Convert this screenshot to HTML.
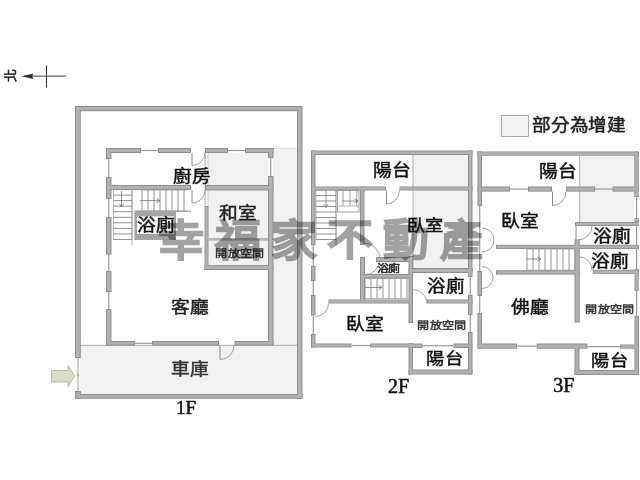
<!DOCTYPE html>
<html lang="zh-TW"><head><meta charset="utf-8"><style>
html,body{margin:0;padding:0;background:#fff;width:640px;height:480px;overflow:hidden}
svg{position:absolute;left:0;top:0}
.t{position:absolute;font-family:"Liberation Sans",sans-serif;white-space:nowrap;line-height:1;color:#111;-webkit-text-stroke:0.5px currentColor}
.s{font-family:"Liberation Serif",serif}
.c{transform:scale(1.04,0.93);transform-origin:50% 50%}
.wm{font-weight:700;color:#a2a2a2;-webkit-text-stroke:1.3px #a2a2a2;mix-blend-mode:multiply;transform:scaleY(0.95);transform-origin:0 0}
</style></head><body>
<svg width="640" height="480" viewBox="0 0 640 480">
<rect x="80" y="345" width="217" height="49" fill="#eff2ee" />
<rect x="273" y="148" width="24" height="197" fill="#eff2ee" />
<rect x="208.5" y="153" width="59.5" height="112" fill="#eff2ee" />
<line x1="80" y1="345.3" x2="297" y2="345.3" stroke="#9a9a9a" stroke-width="0.8"/>
<line x1="273" y1="148.3" x2="297" y2="148.3" stroke="#c8c8c8" stroke-width="0.6"/>
<line x1="78" y1="358" x2="78" y2="391" stroke="#8a8a8a" stroke-width="0.9"/>
<line x1="76.5" y1="375" x2="79.5" y2="375" stroke="#8a8a8a" stroke-width="0.8"/>
<line x1="141" y1="150.5" x2="158" y2="150.5" stroke="#9a9a9a" stroke-width="1.2"/>
<line x1="228" y1="150.5" x2="245" y2="150.5" stroke="#9a9a9a" stroke-width="1.2"/>
<line x1="108.75" y1="159" x2="108.75" y2="177" stroke="#9a9a9a" stroke-width="1.2"/>
<line x1="108.75" y1="199" x2="108.75" y2="217" stroke="#9a9a9a" stroke-width="1.2"/>
<line x1="108.75" y1="254.7" x2="108.75" y2="271" stroke="#9a9a9a" stroke-width="1.2"/>
<line x1="108.75" y1="292" x2="108.75" y2="309" stroke="#9a9a9a" stroke-width="1.2"/>
<line x1="270.75" y1="158" x2="270.75" y2="176" stroke="#9a9a9a" stroke-width="1.2"/>
<line x1="135" y1="343.25" x2="152" y2="343.25" stroke="#9a9a9a" stroke-width="1.2"/>
<rect x="208.5" y="238" width="59.5" height="2.6" fill="#b4b4b4" />
<line x1="205.2" y1="153" x2="205.2" y2="206" stroke="#999" stroke-width="0.8"/>
<line x1="208" y1="153" x2="208" y2="206" stroke="#aaa" stroke-width="0.6"/>
<line x1="113.5" y1="189.5" x2="132" y2="189.5" stroke="#808080" stroke-width="0.85"/>
<line x1="113.5" y1="195.1" x2="132" y2="195.1" stroke="#808080" stroke-width="0.85"/>
<line x1="113.5" y1="200.6" x2="132" y2="200.6" stroke="#808080" stroke-width="0.85"/>
<line x1="113.5" y1="206.2" x2="132" y2="206.2" stroke="#808080" stroke-width="0.85"/>
<line x1="113.5" y1="211.7" x2="132" y2="211.7" stroke="#808080" stroke-width="0.85"/>
<line x1="113.5" y1="217.3" x2="132" y2="217.3" stroke="#808080" stroke-width="0.85"/>
<line x1="113.5" y1="222.8" x2="132" y2="222.8" stroke="#808080" stroke-width="0.85"/>
<line x1="113.5" y1="228.4" x2="132" y2="228.4" stroke="#808080" stroke-width="0.85"/>
<line x1="113.5" y1="233.9" x2="132" y2="233.9" stroke="#808080" stroke-width="0.85"/>
<line x1="113.5" y1="239.5" x2="132" y2="239.5" stroke="#808080" stroke-width="0.85"/>
<line x1="113.5" y1="189.5" x2="113.5" y2="239.5" stroke="#8a8a8a" stroke-width="0.6"/>
<line x1="132" y1="189.5" x2="132" y2="239.5" stroke="#8a8a8a" stroke-width="0.6"/>
<line x1="132" y1="190" x2="132" y2="245" stroke="#8a8a8a" stroke-width="0.7"/>
<line x1="142" y1="190" x2="142" y2="211" stroke="#808080" stroke-width="0.85"/>
<line x1="148" y1="190" x2="148" y2="211" stroke="#808080" stroke-width="0.85"/>
<line x1="154" y1="190" x2="154" y2="211" stroke="#808080" stroke-width="0.85"/>
<line x1="160" y1="190" x2="160" y2="211" stroke="#808080" stroke-width="0.85"/>
<line x1="166" y1="190" x2="166" y2="211" stroke="#808080" stroke-width="0.85"/>
<line x1="172" y1="190" x2="172" y2="211" stroke="#808080" stroke-width="0.85"/>
<line x1="178" y1="190" x2="178" y2="211" stroke="#808080" stroke-width="0.85"/>
<line x1="184" y1="190" x2="184" y2="211" stroke="#808080" stroke-width="0.85"/>
<line x1="142" y1="190" x2="187" y2="190" stroke="#8a8a8a" stroke-width="0.6"/>
<line x1="142" y1="211" x2="187" y2="211" stroke="#8a8a8a" stroke-width="0.6"/>
<rect x="134.4" y="210.4" width="41.6" height="29.6" fill="#a4a4a4" />
<rect x="137" y="216.4" width="37" height="17.6" fill="#fff" />
<line x1="176" y1="211.2" x2="191" y2="211.2" stroke="#8a8a8a" stroke-width="0.9"/>
<path d="M205.0 152.5 A13 13 0 0 1 192.0 165.5" fill="none" stroke="#7a7a7a" stroke-width="0.7"/>
<line x1="192" y1="153" x2="192" y2="165.5" stroke="#8a8a8a" stroke-width="1.0"/>
<path d="M205.0 190.0 A13 13 0 0 1 192.0 203.0" fill="none" stroke="#7a7a7a" stroke-width="0.7"/>
<line x1="192" y1="190" x2="192" y2="203" stroke="#8a8a8a" stroke-width="1.0"/>
<path d="M234.0 345.5 A14 14 0 0 1 220.0 359.5" fill="none" stroke="#7a7a7a" stroke-width="0.7"/>
<line x1="220" y1="345.5" x2="220" y2="359.5" stroke="#8a8a8a" stroke-width="1.0"/>
<path d="M51.5 370.5 H68 V365.5 L74.5 376 L68 387 V382 H51.5 Z" fill="#dcdcc6" stroke="#a5a58f" stroke-width="0.7"/>
<rect x="413" y="155" width="55" height="113" fill="#eff2ee" />
<line x1="413" y1="155" x2="413" y2="268" stroke="#999" stroke-width="0.8"/>
<line x1="313.25" y1="245" x2="313.25" y2="266" stroke="#9a9a9a" stroke-width="1.2"/>
<line x1="313.25" y1="281" x2="313.25" y2="295" stroke="#9a9a9a" stroke-width="1.2"/>
<line x1="313.25" y1="315.5" x2="313.25" y2="334" stroke="#9a9a9a" stroke-width="1.2"/>
<line x1="470.25" y1="277" x2="470.25" y2="295" stroke="#9a9a9a" stroke-width="1.2"/>
<line x1="470.25" y1="315" x2="470.25" y2="332" stroke="#9a9a9a" stroke-width="1.2"/>
<path d="M399.5 190.5 A13.5 13.5 0 0 1 386.0 204.0" fill="none" stroke="#7a7a7a" stroke-width="0.7"/>
<line x1="386.5" y1="190.5" x2="386.5" y2="204" stroke="#8a8a8a" stroke-width="1.0"/>
<line x1="316" y1="190" x2="336" y2="190" stroke="#808080" stroke-width="0.85"/>
<line x1="316" y1="195.5" x2="336" y2="195.5" stroke="#808080" stroke-width="0.85"/>
<line x1="316" y1="201.0" x2="336" y2="201.0" stroke="#808080" stroke-width="0.85"/>
<line x1="316" y1="206.5" x2="336" y2="206.5" stroke="#808080" stroke-width="0.85"/>
<line x1="316" y1="212.0" x2="336" y2="212.0" stroke="#808080" stroke-width="0.85"/>
<line x1="316" y1="217.5" x2="336" y2="217.5" stroke="#808080" stroke-width="0.85"/>
<line x1="316" y1="223.0" x2="336" y2="223.0" stroke="#808080" stroke-width="0.85"/>
<line x1="316" y1="228.5" x2="336" y2="228.5" stroke="#808080" stroke-width="0.85"/>
<line x1="316" y1="234.0" x2="336" y2="234.0" stroke="#808080" stroke-width="0.85"/>
<line x1="316" y1="239.5" x2="336" y2="239.5" stroke="#808080" stroke-width="0.85"/>
<line x1="316" y1="190" x2="316" y2="240" stroke="#8a8a8a" stroke-width="0.6"/>
<line x1="336" y1="190" x2="336" y2="240" stroke="#8a8a8a" stroke-width="0.6"/>
<line x1="336" y1="190" x2="336" y2="245" stroke="#8a8a8a" stroke-width="0.7"/>
<rect x="337.5" y="190.5" width="21.5" height="21.5" fill="none" stroke="#8a8a8a" stroke-width="0.8"/>
<line x1="337.5" y1="206" x2="359" y2="206" stroke="#9a9a9a" stroke-width="0.7"/>
<line x1="343" y1="190" x2="343" y2="206" stroke="#8a8a8a" stroke-width="0.8"/>
<line x1="350" y1="190" x2="350" y2="206" stroke="#8a8a8a" stroke-width="0.8"/>
<line x1="356.8" y1="190" x2="356.8" y2="206" stroke="#8a8a8a" stroke-width="0.8"/>
<line x1="365" y1="278.5" x2="365" y2="298.5" stroke="#808080" stroke-width="0.85"/>
<line x1="371" y1="278.5" x2="371" y2="298.5" stroke="#808080" stroke-width="0.85"/>
<line x1="377" y1="278.5" x2="377" y2="298.5" stroke="#808080" stroke-width="0.85"/>
<line x1="383" y1="278.5" x2="383" y2="298.5" stroke="#808080" stroke-width="0.85"/>
<line x1="389" y1="278.5" x2="389" y2="298.5" stroke="#808080" stroke-width="0.85"/>
<line x1="395" y1="278.5" x2="395" y2="298.5" stroke="#808080" stroke-width="0.85"/>
<line x1="401" y1="278.5" x2="401" y2="298.5" stroke="#808080" stroke-width="0.85"/>
<line x1="407" y1="278.5" x2="407" y2="298.5" stroke="#808080" stroke-width="0.85"/>
<line x1="365" y1="278.5" x2="408" y2="278.5" stroke="#8a8a8a" stroke-width="0.6"/>
<line x1="365" y1="298.5" x2="408" y2="298.5" stroke="#8a8a8a" stroke-width="0.6"/>
<path d="M364.0 243.0 A16 16 0 0 1 364.0 275.0" fill="none" stroke="#7a7a7a" stroke-width="0.7"/>
<path d="M413.0 289.5 A14 14 0 0 1 427.0 303.5" fill="none" stroke="#7a7a7a" stroke-width="0.7"/>
<line x1="351.5" y1="345.5" x2="370" y2="345.5" stroke="#9a9a9a" stroke-width="1.2"/>
<path d="M328.5 303.5 A13 13 0 0 1 315.5 316.5" fill="none" stroke="#7a7a7a" stroke-width="0.7"/>
<line x1="422.5" y1="345.75" x2="453.5" y2="345.75" stroke="#9a9a9a" stroke-width="1.2"/>
<rect x="579.7" y="155.7" width="54.6" height="66.3" fill="#eff2ee" />
<line x1="579.7" y1="155.7" x2="579.7" y2="222" stroke="#999" stroke-width="0.8"/>
<line x1="479.75" y1="206" x2="479.75" y2="271" stroke="#9a9a9a" stroke-width="1.2"/>
<line x1="479.75" y1="296" x2="479.75" y2="313" stroke="#9a9a9a" stroke-width="1.2"/>
<line x1="636.6" y1="197" x2="636.6" y2="269" stroke="#9a9a9a" stroke-width="1.2"/>
<line x1="636.6" y1="291" x2="636.6" y2="316" stroke="#9a9a9a" stroke-width="1.2"/>
<line x1="510" y1="189.05" x2="528" y2="189.05" stroke="#9a9a9a" stroke-width="1.2"/>
<path d="M566.0 191.6 A14 14 0 0 1 552.0 205.6" fill="none" stroke="#7a7a7a" stroke-width="0.7"/>
<line x1="552.5" y1="191.6" x2="552.5" y2="205.6" stroke="#8a8a8a" stroke-width="1.0"/>
<line x1="595" y1="189.05" x2="612.5" y2="189.05" stroke="#9a9a9a" stroke-width="1.2"/>
<line x1="527" y1="249" x2="527" y2="270.2" stroke="#808080" stroke-width="0.85"/>
<line x1="533" y1="249" x2="533" y2="270.2" stroke="#808080" stroke-width="0.85"/>
<line x1="539" y1="249" x2="539" y2="270.2" stroke="#808080" stroke-width="0.85"/>
<line x1="545" y1="249" x2="545" y2="270.2" stroke="#808080" stroke-width="0.85"/>
<line x1="551" y1="249" x2="551" y2="270.2" stroke="#808080" stroke-width="0.85"/>
<line x1="557" y1="249" x2="557" y2="270.2" stroke="#808080" stroke-width="0.85"/>
<line x1="563" y1="249" x2="563" y2="270.2" stroke="#808080" stroke-width="0.85"/>
<line x1="569" y1="249" x2="569" y2="270.2" stroke="#808080" stroke-width="0.85"/>
<line x1="575" y1="249" x2="575" y2="270.2" stroke="#808080" stroke-width="0.85"/>
<line x1="527" y1="249" x2="575" y2="249" stroke="#8a8a8a" stroke-width="0.6"/>
<line x1="527" y1="270.2" x2="575" y2="270.2" stroke="#8a8a8a" stroke-width="0.6"/>
<path d="M592.0 226.0 A14 14 0 0 1 578.0 240.0" fill="none" stroke="#7a7a7a" stroke-width="0.7"/>
<line x1="576" y1="226" x2="576" y2="240" stroke="#8a8a8a" stroke-width="1.0"/>
<path d="M579.0 257.0 A13 13 0 0 1 592.0 270.0" fill="none" stroke="#7a7a7a" stroke-width="0.7"/>
<path d="M482.0 228.0 A12 12 0 0 1 482.0 252.0" fill="none" stroke="#7a7a7a" stroke-width="0.7"/>
<path d="M482.0 266.5 A11 11 0 0 1 482.0 288.5" fill="none" stroke="#7a7a7a" stroke-width="0.7"/>
<line x1="517" y1="346.1" x2="536.7" y2="346.1" stroke="#9a9a9a" stroke-width="1.2"/>
<line x1="587.5" y1="346.6" x2="620" y2="346.6" stroke="#9a9a9a" stroke-width="1.2"/>
<line x1="121.5" y1="191" x2="121.5" y2="207" stroke="#666" stroke-width="0.7"/>
<path d="M119.3 203.5 L121.5 207 L123.7 203.5" fill="none" stroke="#666" stroke-width="0.7"/>
<line x1="140" y1="200.6" x2="160" y2="200.6" stroke="#666" stroke-width="0.7"/>
<path d="M156.5 198.4 L160 200.6 L156.5 202.79999999999998" fill="none" stroke="#666" stroke-width="0.7"/>
<line x1="326" y1="190" x2="326" y2="207.5" stroke="#666" stroke-width="0.7"/>
<path d="M323.8 204.0 L326 207.5 L328.2 204.0" fill="none" stroke="#666" stroke-width="0.7"/>
<line x1="342" y1="201" x2="358" y2="201" stroke="#666" stroke-width="0.7"/>
<path d="M354.5 198.8 L358 201 L354.5 203.2" fill="none" stroke="#666" stroke-width="0.7"/>
<line x1="363" y1="287.5" x2="382" y2="287.5" stroke="#666" stroke-width="0.7"/>
<path d="M378.5 285.3 L382 287.5 L378.5 289.7" fill="none" stroke="#666" stroke-width="0.7"/>
<line x1="527" y1="259" x2="541" y2="259" stroke="#666" stroke-width="0.7"/>
<path d="M537.5 256.8 L541 259 L537.5 261.2" fill="none" stroke="#666" stroke-width="0.7"/>
<rect x="75" y="106" width="227" height="5.2" fill="#8f8f8f" />
<rect x="75" y="106" width="5.8" height="252" fill="#8f8f8f" />
<rect x="75" y="391" width="5.8" height="7.8" fill="#8f8f8f" />
<rect x="297" y="106" width="5.5" height="292.8" fill="#8f8f8f" />
<rect x="75" y="394" width="227.5" height="4.8" fill="#8f8f8f" />
<rect x="106" y="148" width="35" height="5" fill="#8f8f8f" />
<rect x="158" y="148" width="33" height="5" fill="#8f8f8f" />
<rect x="205" y="148" width="23" height="5" fill="#8f8f8f" />
<rect x="245" y="148" width="28.5" height="5" fill="#8f8f8f" />
<rect x="106" y="148" width="5.5" height="11" fill="#8f8f8f" />
<rect x="106" y="177" width="5.5" height="22" fill="#8f8f8f" />
<rect x="106" y="217" width="5.5" height="37.7" fill="#8f8f8f" />
<rect x="106" y="271" width="5.5" height="21" fill="#8f8f8f" />
<rect x="106" y="309" width="5.5" height="36.5" fill="#8f8f8f" />
<rect x="268" y="148" width="5.5" height="10" fill="#8f8f8f" />
<rect x="268" y="176" width="5.5" height="169.5" fill="#8f8f8f" />
<rect x="106" y="341" width="29" height="4.5" fill="#8f8f8f" />
<rect x="152" y="341" width="67" height="4.5" fill="#8f8f8f" />
<rect x="234.5" y="341" width="39.0" height="4.5" fill="#8f8f8f" />
<rect x="106" y="185" width="85" height="5" fill="#8f8f8f" />
<rect x="205" y="185" width="68.5" height="5.5" fill="#8f8f8f" />
<rect x="204.5" y="206" width="4.0" height="64" fill="#8f8f8f" />
<rect x="204.5" y="265" width="69.0" height="5" fill="#8f8f8f" />
<rect x="311" y="150.5" width="161.5" height="4.5" fill="#8f8f8f" />
<rect x="311" y="150.5" width="4.5" height="94.5" fill="#8f8f8f" />
<rect x="311" y="266" width="4.5" height="15" fill="#8f8f8f" />
<rect x="311" y="295" width="4.5" height="20.5" fill="#8f8f8f" />
<rect x="311" y="334" width="4.5" height="13.5" fill="#8f8f8f" />
<rect x="468" y="150.5" width="4.5" height="126.5" fill="#8f8f8f" />
<rect x="468" y="295" width="4.5" height="20" fill="#8f8f8f" />
<rect x="468" y="332" width="4.5" height="42.5" fill="#8f8f8f" />
<rect x="311" y="186.5" width="75" height="4.0" fill="#8f8f8f" />
<rect x="399.5" y="186.5" width="73.0" height="4.0" fill="#8f8f8f" />
<rect x="360" y="186.5" width="4.5" height="58.5" fill="#8f8f8f" />
<rect x="376" y="257" width="37" height="5" fill="#8f8f8f" />
<rect x="360" y="274" width="53" height="4.5" fill="#8f8f8f" />
<rect x="360" y="257" width="5" height="44" fill="#8f8f8f" />
<rect x="408.5" y="256" width="4.5" height="67" fill="#8f8f8f" />
<rect x="408.5" y="268" width="64.0" height="5" fill="#8f8f8f" />
<rect x="328.5" y="299.5" width="84.5" height="4.0" fill="#8f8f8f" />
<rect x="427" y="299.5" width="45.5" height="4.0" fill="#8f8f8f" />
<rect x="311" y="343.5" width="40.5" height="4.0" fill="#8f8f8f" />
<rect x="370" y="343.5" width="43" height="4.0" fill="#8f8f8f" />
<rect x="408.5" y="343.5" width="14.0" height="4.5" fill="#8f8f8f" />
<rect x="453.5" y="343.5" width="19.0" height="4.5" fill="#8f8f8f" />
<rect x="408.5" y="343.5" width="4.5" height="31.0" fill="#8f8f8f" />
<rect x="408.5" y="369.5" width="64.0" height="5.0" fill="#8f8f8f" />
<rect x="477.5" y="151.5" width="161.2" height="4.2" fill="#8f8f8f" />
<rect x="477.5" y="151.5" width="4.5" height="54.5" fill="#8f8f8f" />
<rect x="477.5" y="271" width="4.5" height="25" fill="#8f8f8f" />
<rect x="477.5" y="313" width="4.5" height="35.7" fill="#8f8f8f" />
<rect x="634.3" y="151.5" width="4.4" height="45.5" fill="#8f8f8f" />
<rect x="634.5" y="218" width="4.2" height="4" fill="#8f8f8f" />
<rect x="634.5" y="245" width="4.2" height="4" fill="#8f8f8f" />
<rect x="634.5" y="269" width="4.2" height="22" fill="#8f8f8f" />
<rect x="634.5" y="316" width="4.5" height="59" fill="#8f8f8f" />
<rect x="477.5" y="186.5" width="32.5" height="5.1" fill="#8f8f8f" />
<rect x="528" y="186.5" width="24" height="5.1" fill="#8f8f8f" />
<rect x="566" y="186.5" width="29" height="5.1" fill="#8f8f8f" />
<rect x="612.5" y="186.5" width="26.2" height="5.1" fill="#8f8f8f" />
<rect x="575" y="222" width="63.7" height="4" fill="#8f8f8f" />
<rect x="496" y="244.8" width="142.7" height="4.2" fill="#8f8f8f" />
<rect x="496" y="270.2" width="83.7" height="4.4" fill="#8f8f8f" />
<rect x="592.8" y="269.7" width="45.9" height="4.1" fill="#8f8f8f" />
<rect x="574.5" y="239.5" width="5.2" height="83.0" fill="#8f8f8f" />
<rect x="477.5" y="343.5" width="39.5" height="5.2" fill="#8f8f8f" />
<rect x="536.7" y="343.5" width="50.8" height="5.2" fill="#8f8f8f" />
<rect x="620" y="344.5" width="19" height="4.2" fill="#8f8f8f" />
<rect x="574.5" y="344.5" width="5.0" height="30.5" fill="#8f8f8f" />
<rect x="574.5" y="370" width="64.5" height="5" fill="#8f8f8f" />
<rect x="76.0" y="107.0" width="225.0" height="3.2" fill="#b1b1b1" />
<rect x="76.0" y="107.0" width="3.8" height="250.0" fill="#b1b1b1" />
<rect x="76.0" y="392.0" width="3.8" height="5.8" fill="#b1b1b1" />
<rect x="298.0" y="107.0" width="3.5" height="290.8" fill="#b1b1b1" />
<rect x="76.0" y="395.0" width="225.5" height="2.8" fill="#b1b1b1" />
<rect x="107.0" y="149.0" width="33.0" height="3.0" fill="#b1b1b1" />
<rect x="159.0" y="149.0" width="31.0" height="3.0" fill="#b1b1b1" />
<rect x="206.0" y="149.0" width="21.0" height="3.0" fill="#b1b1b1" />
<rect x="246.0" y="149.0" width="26.5" height="3.0" fill="#b1b1b1" />
<rect x="107.0" y="149.0" width="3.5" height="9.0" fill="#b1b1b1" />
<rect x="107.0" y="178.0" width="3.5" height="20.0" fill="#b1b1b1" />
<rect x="107.0" y="218.0" width="3.5" height="35.7" fill="#b1b1b1" />
<rect x="107.0" y="272.0" width="3.5" height="19.0" fill="#b1b1b1" />
<rect x="107.0" y="310.0" width="3.5" height="34.5" fill="#b1b1b1" />
<rect x="269.0" y="149.0" width="3.5" height="8.0" fill="#b1b1b1" />
<rect x="269.0" y="177.0" width="3.5" height="167.5" fill="#b1b1b1" />
<rect x="107.0" y="342.0" width="27.0" height="2.5" fill="#b1b1b1" />
<rect x="153.0" y="342.0" width="65.0" height="2.5" fill="#b1b1b1" />
<rect x="235.5" y="342.0" width="37.0" height="2.5" fill="#b1b1b1" />
<rect x="107.0" y="186.0" width="83.0" height="3.0" fill="#b1b1b1" />
<rect x="206.0" y="186.0" width="66.5" height="3.5" fill="#b1b1b1" />
<rect x="205.3" y="206.8" width="2.4" height="62.4" fill="#b1b1b1" />
<rect x="205.5" y="266.0" width="67.0" height="3.0" fill="#b1b1b1" />
<rect x="312.0" y="151.5" width="159.5" height="2.5" fill="#b1b1b1" />
<rect x="312.0" y="151.5" width="2.5" height="92.5" fill="#b1b1b1" />
<rect x="312.0" y="267.0" width="2.5" height="13.0" fill="#b1b1b1" />
<rect x="312.0" y="296.0" width="2.5" height="18.5" fill="#b1b1b1" />
<rect x="312.0" y="335.0" width="2.5" height="11.5" fill="#b1b1b1" />
<rect x="469.0" y="151.5" width="2.5" height="124.5" fill="#b1b1b1" />
<rect x="469.0" y="296.0" width="2.5" height="18.0" fill="#b1b1b1" />
<rect x="469.0" y="333.0" width="2.5" height="40.5" fill="#b1b1b1" />
<rect x="311.8" y="187.3" width="73.4" height="2.4" fill="#b1b1b1" />
<rect x="400.3" y="187.3" width="71.4" height="2.4" fill="#b1b1b1" />
<rect x="361.0" y="187.5" width="2.5" height="56.5" fill="#b1b1b1" />
<rect x="377.0" y="258.0" width="35.0" height="3.0" fill="#b1b1b1" />
<rect x="361.0" y="275.0" width="51.0" height="2.5" fill="#b1b1b1" />
<rect x="361.0" y="258.0" width="3.0" height="42.0" fill="#b1b1b1" />
<rect x="409.5" y="257.0" width="2.5" height="65.0" fill="#b1b1b1" />
<rect x="409.5" y="269.0" width="62.0" height="3.0" fill="#b1b1b1" />
<rect x="329.3" y="300.3" width="82.9" height="2.4" fill="#b1b1b1" />
<rect x="427.8" y="300.3" width="43.9" height="2.4" fill="#b1b1b1" />
<rect x="311.8" y="344.3" width="38.9" height="2.4" fill="#b1b1b1" />
<rect x="370.8" y="344.3" width="41.4" height="2.4" fill="#b1b1b1" />
<rect x="409.5" y="344.5" width="12.0" height="2.5" fill="#b1b1b1" />
<rect x="454.5" y="344.5" width="17.0" height="2.5" fill="#b1b1b1" />
<rect x="409.5" y="344.5" width="2.5" height="29.0" fill="#b1b1b1" />
<rect x="409.5" y="370.5" width="62.0" height="3.0" fill="#b1b1b1" />
<rect x="478.3" y="152.3" width="159.6" height="2.6" fill="#b1b1b1" />
<rect x="478.5" y="152.5" width="2.5" height="52.5" fill="#b1b1b1" />
<rect x="478.5" y="272.0" width="2.5" height="23.0" fill="#b1b1b1" />
<rect x="478.5" y="314.0" width="2.5" height="33.7" fill="#b1b1b1" />
<rect x="635.3" y="152.5" width="2.4" height="43.5" fill="#b1b1b1" />
<rect x="635.3" y="218.8" width="2.6" height="2.4" fill="#b1b1b1" />
<rect x="635.3" y="245.8" width="2.6" height="2.4" fill="#b1b1b1" />
<rect x="635.3" y="269.8" width="2.6" height="20.4" fill="#b1b1b1" />
<rect x="635.5" y="317.0" width="2.5" height="57.0" fill="#b1b1b1" />
<rect x="478.5" y="187.5" width="30.5" height="3.1" fill="#b1b1b1" />
<rect x="529.0" y="187.5" width="22.0" height="3.1" fill="#b1b1b1" />
<rect x="567.0" y="187.5" width="27.0" height="3.1" fill="#b1b1b1" />
<rect x="613.5" y="187.5" width="24.2" height="3.1" fill="#b1b1b1" />
<rect x="575.8" y="222.8" width="62.1" height="2.4" fill="#b1b1b1" />
<rect x="496.8" y="245.60000000000002" width="141.1" height="2.6" fill="#b1b1b1" />
<rect x="497.0" y="271.2" width="81.7" height="2.4" fill="#b1b1b1" />
<rect x="593.5999999999999" y="270.5" width="44.3" height="2.5" fill="#b1b1b1" />
<rect x="575.5" y="240.5" width="3.2" height="81.0" fill="#b1b1b1" />
<rect x="478.5" y="344.5" width="37.5" height="3.2" fill="#b1b1b1" />
<rect x="537.7" y="344.5" width="48.8" height="3.2" fill="#b1b1b1" />
<rect x="620.8" y="345.3" width="17.4" height="2.6" fill="#b1b1b1" />
<rect x="575.5" y="345.5" width="3.0" height="28.5" fill="#b1b1b1" />
<rect x="575.5" y="371.0" width="62.5" height="3.0" fill="#b1b1b1" />
<line x1="24" y1="76.2" x2="66" y2="76.2" stroke="#666" stroke-width="1.3"/>
<line x1="46.5" y1="65.5" x2="46.5" y2="87.5" stroke="#333" stroke-width="1"/>
<path d="M21.3 76.2 L33.6 73.5 L32 76.2 L33.6 78.9 Z" fill="#333"/>
<rect x="501.5" y="115.5" width="27" height="21" fill="#eff2ee" stroke="#999" stroke-width="0.8"/>
</svg>
<div class="t c" style="left:174.15px;top:166.89px;font-size:18px;color:#111">廚房</div>
<div class="t c" style="left:137.90px;top:216.24px;font-size:18px;color:#111">浴廁</div>
<div class="t c" style="left:220.40px;top:203.79px;font-size:18px;color:#222">和室</div>
<div class="t c" style="left:215.55px;top:246.76px;font-size:11.6px;color:#333">開放空間</div>
<div class="t c" style="left:171.60px;top:297.69px;font-size:18px;color:#222">客廳</div>
<div class="t c" style="left:171.95px;top:359.59px;font-size:18px;color:#333">車庫</div>
<div class="t c" style="left:373.80px;top:161.29px;font-size:18px;color:#111">陽台</div>
<div class="t c" style="left:408.30px;top:217.34px;font-size:17.5px;color:#111">臥室</div>
<div class="t c" style="left:377.30px;top:262.81px;font-size:11.5px;color:#222">浴廁</div>
<div class="t c" style="left:427.80px;top:277.69px;font-size:17.8px;color:#111">浴廁</div>
<div class="t c" style="left:347.10px;top:315.49px;font-size:18px;color:#111">臥室</div>
<div class="t c" style="left:417.55px;top:318.71px;font-size:11.6px;color:#333">開放空間</div>
<div class="t c" style="left:426.60px;top:350.49px;font-size:17.6px;color:#111">陽台</div>
<div class="t c" style="left:540.40px;top:162.29px;font-size:18px;color:#111">陽台</div>
<div class="t c" style="left:502.00px;top:212.19px;font-size:18px;color:#111">臥室</div>
<div class="t c" style="left:593.60px;top:226.99px;font-size:18px;color:#111">浴廁</div>
<div class="t c" style="left:591.75px;top:251.99px;font-size:18px;color:#111">浴廁</div>
<div class="t c" style="left:511.85px;top:297.89px;font-size:18px;color:#111">佛廳</div>
<div class="t c" style="left:586.05px;top:303.01px;font-size:11.6px;color:#333">開放空間</div>
<div class="t c" style="left:592.40px;top:351.79px;font-size:17.6px;color:#111">陽台</div>
<div class="t c" style="left:533.85px;top:117.34px;font-size:17.9px;color:#222">部分為增建</div>
<div class="t s" style="left:175.99px;top:398.47px;font-size:19px;color:#111">1F</div>
<div class="t s" style="left:387.90px;top:375.60px;font-size:20px;color:#111">2F</div>
<div class="t s" style="left:553.20px;top:374.70px;font-size:20px;color:#111">3F</div>
<div class="t" style="left:3.5px;top:69px;font-size:13px;color:#222;transform:rotate(-90deg);transform-origin:50% 50%">北</div>
<div class="t wm" style="left:158.0px;top:218.5px;font-size:46px">幸</div>
<div class="t wm" style="left:215.4px;top:218.5px;font-size:46px">福</div>
<div class="t wm" style="left:270.8px;top:218.5px;font-size:46px">家</div>
<div class="t wm" style="left:327.1px;top:217.6px;font-size:46px">不</div>
<div class="t wm" style="left:383.4px;top:218.3px;font-size:46px">動</div>
<div class="t wm" style="left:439.7px;top:218.8px;font-size:46px;transform:scale(0.93,0.95)">產</div>
</body></html>
